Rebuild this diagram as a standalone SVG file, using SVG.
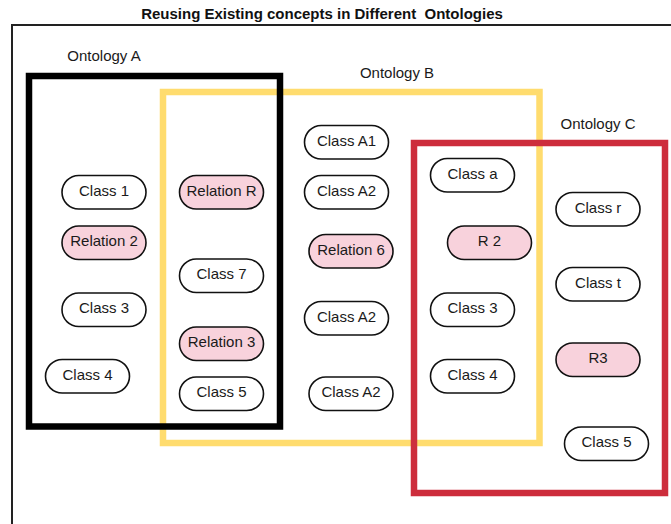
<svg xmlns="http://www.w3.org/2000/svg" width="671" height="524" viewBox="0 0 671 524">
  <style>
    .lbl { font-family: "Liberation Sans", Arial, sans-serif; font-size: 15px; fill: #1a1a1a; text-anchor: middle; }
    .title { font-family: "Liberation Sans", Arial, sans-serif; font-size: 15px; font-weight: bold; fill: #111; text-anchor: middle; white-space: pre; }
    .pill { fill: #ffffff; stroke: #111; stroke-width: 1.6; }
    .rel { fill: #f8d2dc; stroke: #111; stroke-width: 1.6; }
    .box { fill: none; stroke-width: 6.5; }
  </style>
  <rect width="671" height="524" fill="#ffffff"/>

  <!-- outer frame -->
  <path d="M12,524 V25 H671" fill="none" stroke="#222" stroke-width="2"/>
  <text class="title" x="322" y="19" xml:space="preserve">Reusing Existing concepts in Different  Ontologies</text>

  <!-- ontology boundaries -->
  <g id="ontology-b">
    <rect class="box" x="163" y="92" width="376.5" height="351" stroke="#ffdc6e"/>
    <text class="lbl" x="397" y="78">Ontology B</text>
  </g>
  <g id="ontology-a">
    <rect class="box" x="29" y="76" width="251" height="350.5" stroke="#000"/>
    <text class="lbl" x="104" y="61">Ontology A</text>
  </g>
  <g id="ontology-c">
    <rect class="box" x="414" y="143" width="251" height="350" stroke="#cd2d3c"/>
    <text class="lbl" x="598" y="129">Ontology C</text>
  </g>

  <!-- no connectors in this diagram -->
  <g id="connectors"/>

  <!-- Ontology A nodes -->
  <g id="a-class1"><rect class="pill" x="62" y="175.5" width="84" height="33.5" rx="16.75"/><text class="lbl" x="104" y="195.5">Class 1</text></g>
  <g id="a-relation2"><rect class="rel" x="62" y="226" width="84" height="33.5" rx="16.75"/><text class="lbl" x="104" y="246">Relation 2</text></g>
  <g id="a-class3"><rect class="pill" x="62" y="293" width="84" height="33.5" rx="16.75"/><text class="lbl" x="104" y="313">Class 3</text></g>
  <g id="a-class4"><rect class="pill" x="45.5" y="359.5" width="84" height="33.5" rx="16.75"/><text class="lbl" x="87.5" y="379.5">Class 4</text></g>

  <!-- shared A/B nodes -->
  <g id="ab-relationR"><rect class="rel" x="179.5" y="175.5" width="84" height="33.5" rx="16.75"/><text class="lbl" x="221.5" y="195.5">Relation R</text></g>
  <g id="ab-class7"><rect class="pill" x="179.5" y="259" width="84" height="33.5" rx="16.75"/><text class="lbl" x="221.5" y="279">Class 7</text></g>
  <g id="ab-relation3"><rect class="rel" x="179.5" y="327" width="84" height="33.5" rx="16.75"/><text class="lbl" x="221.5" y="347">Relation 3</text></g>
  <g id="ab-class5"><rect class="pill" x="179.5" y="377" width="84" height="33.5" rx="16.75"/><text class="lbl" x="221.5" y="397">Class 5</text></g>

  <!-- Ontology B nodes -->
  <g id="b-classA1"><rect class="pill" x="304.5" y="125.5" width="84" height="33.5" rx="16.75"/><text class="lbl" x="346.5" y="145.5">Class A1</text></g>
  <g id="b-classA2-1"><rect class="pill" x="304.5" y="175.5" width="84" height="33.5" rx="16.75"/><text class="lbl" x="346.5" y="195.5">Class A2</text></g>
  <g id="b-relation6"><rect class="rel" x="309" y="234.5" width="84" height="33.5" rx="16.75"/><text class="lbl" x="351" y="254.5">Relation 6</text></g>
  <g id="b-classA2-2"><rect class="pill" x="304.5" y="301.5" width="84" height="33.5" rx="16.75"/><text class="lbl" x="346.5" y="321.5">Class A2</text></g>
  <g id="b-classA2-3"><rect class="pill" x="309" y="377" width="84" height="33.5" rx="16.75"/><text class="lbl" x="351" y="397">Class A2</text></g>

  <!-- shared B/C nodes -->
  <g id="bc-classa"><rect class="pill" x="430.5" y="158.5" width="84" height="33.5" rx="16.75"/><text class="lbl" x="472.5" y="178.5">Class a</text></g>
  <g id="bc-r2"><rect class="rel" x="447.5" y="226" width="84" height="33.5" rx="16.75"/><text class="lbl" x="489.5" y="246">R 2</text></g>
  <g id="bc-class3"><rect class="pill" x="430.5" y="293" width="84" height="33.5" rx="16.75"/><text class="lbl" x="472.5" y="313">Class 3</text></g>
  <g id="bc-class4"><rect class="pill" x="430.5" y="359.5" width="84" height="33.5" rx="16.75"/><text class="lbl" x="472.5" y="379.5">Class 4</text></g>

  <!-- Ontology C nodes -->
  <g id="c-classr"><rect class="pill" x="556" y="192.5" width="84" height="33.5" rx="16.75"/><text class="lbl" x="598" y="212.5">Class r</text></g>
  <g id="c-classt"><rect class="pill" x="556" y="267.5" width="84" height="33.5" rx="16.75"/><text class="lbl" x="598" y="287.5">Class t</text></g>
  <g id="c-r3"><rect class="rel" x="556" y="343" width="84" height="33.5" rx="16.75"/><text class="lbl" x="598" y="363">R3</text></g>
  <g id="c-class5"><rect class="pill" x="564.5" y="427" width="84" height="33.5" rx="16.75"/><text class="lbl" x="606.5" y="447">Class 5</text></g>
</svg>
